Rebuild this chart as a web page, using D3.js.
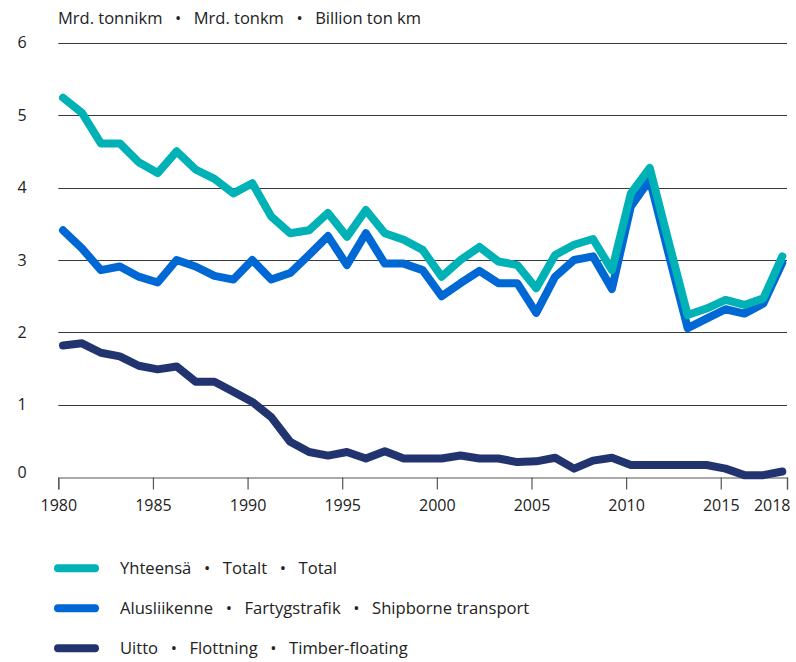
<!DOCTYPE html>
<html>
<head>
<meta charset="utf-8">
<script src="https://cdn.jsdelivr.net/npm/d3@7"></script>
<style>
  body { margin: 0; background: #fff; }
  svg text { font-family: "Open Sans", sans-serif; fill: #222; }
</style>
</head>
<body>
<div id="chart"></div>
<script>
// Data (billion ton km)
const years = d3.range(1980, 2019);

const total = [5.24, 5.03, 4.61, 4.61, 4.35, 4.20, 4.50, 4.25, 4.12, 3.92,
  4.06, 3.60, 3.37, 3.41, 3.65, 3.32, 3.69, 3.37, 3.28, 3.14,
  2.77, 3.00, 3.18, 2.98, 2.93, 2.61, 3.07, 3.21, 3.29, 2.86,
  3.92, 4.27, 3.25, 2.24, 2.33, 2.45, 2.38, 2.47, 3.05];

const shipborne = [3.41, 3.16, 2.86, 2.91, 2.77, 2.69, 3.00, 2.91, 2.78, 2.73,
  3.00, 2.73, 2.82, 3.07, 3.33, 2.93, 3.37, 2.95, 2.95, 2.86,
  2.50, 2.68, 2.85, 2.68, 2.68, 2.27, 2.77, 3.00, 3.05, 2.60,
  3.74, 4.11, 3.08, 2.06, 2.19, 2.32, 2.26, 2.40, 2.96];

const timber = [1.82, 1.85, 1.72, 1.67, 1.54, 1.49, 1.53, 1.32, 1.32, 1.18,
  1.04, 0.83, 0.49, 0.35, 0.30, 0.35, 0.26, 0.36, 0.26, 0.26,
  0.26, 0.30, 0.26, 0.26, 0.21, 0.22, 0.27, 0.12, 0.23, 0.27,
  0.17, 0.17, 0.17, 0.17, 0.17, 0.12, 0.03, 0.03, 0.08];

const yTicks = [0, 1, 2, 3, 4, 5, 6];
const xTicks = [1980, 1985, 1990, 1995, 2000, 2005, 2010, 2015, 2018.5];
const xTickLabels = ["1980", "1985", "1990", "1995", "2000", "2005", "2010", "2015", "2018"];

const sep = " \u2002•\u2002 ";
const unitLabel = ["Mrd. tonnikm", "Mrd. tonkm", "Billion ton km"].join(sep);
const seriesNames = [
  ["Yhteensä", "Totalt", "Total"].join(sep),
  ["Alusliikenne", "Fartygstrafik", "Shipborne transport"].join(sep),
  ["Uitto", "Flottning", "Timber-floating"].join(sep)
];
const seriesColors = ["#00b1b5", "#0068d4", "#22346f"];

const W = 796, H = 662;
const svg = d3.select("#chart").append("svg")
  .attr("width", W).attr("height", H);

const x = d3.scaleLinear().domain([1980, 2018.5]).range([58.3, 787]);
const y = d3.scaleLinear().domain([0, 6]).range([477.3, 42.7]);

// unit title
svg.append("text")
  .attr("x", 58).attr("y", 18)
  .attr("dy", "0.35em")
  .style("font-size", "16.5px")
  .style("white-space", "pre")
  .text(unitLabel);

// gridlines
svg.append("g")
  .selectAll("line")
  .data(yTicks.filter(d => d > 0))
  .enter().append("line")
    .attr("x1", x(1980)).attr("x2", x(2018.5))
    .attr("y1", d => Math.round(y(d)) + 0.5)
    .attr("y2", d => Math.round(y(d)) + 0.5)
    .style("stroke", "#3a3a3a")
    .style("stroke-width", 1.2);

// y labels
svg.append("g")
  .selectAll("text")
  .data(yTicks)
  .enter().append("text")
    .attr("x", 22)
    .attr("y", d => d === 0 ? y(d) - 5 : y(d))
    .attr("dy", "0.35em")
    .style("text-anchor", "middle")
    .style("font-size", "16px")
    .text(d => d);

// x axis
const xAxis = svg.append("g")
  .attr("transform", `translate(0,${Math.round(y(0)) + 0.5})`)
  .call(d3.axisBottom(x)
    .tickValues(xTicks)
    .tickSize(12)
    .tickPadding(10)
    .tickFormat((d, i) => xTickLabels[i]));

xAxis.select(".domain").style("stroke", "#555").style("stroke-width", 1.2);
xAxis.selectAll(".tick line").style("stroke", "#555").style("stroke-width", 1.2);
xAxis.selectAll(".tick text")
  .style("font-family", "'Open Sans', sans-serif")
  .style("font-size", "16px")
  .style("fill", "#222");
xAxis.selectAll(".tick text")
  .filter((d, i) => i === xTicks.length - 1)
  .style("text-anchor", "end")
  .attr("dx", 3);

// lines
const seriesData = [total, shipborne, timber];
const line = d3.line()
  .x((d, i) => x(years[i] + 0.25))
  .y(d => y(d));

// draw timber first, total on top
[2, 1, 0].forEach(k => {
  svg.append("path")
    .datum(seriesData[k])
    .attr("d", line)
    .style("fill", "none")
    .style("stroke", seriesColors[k])
    .style("stroke-width", 8)
    .style("stroke-linejoin", "round")
    .style("stroke-linecap", "round");
});

// legend
const legend = svg.selectAll(".legend")
  .data(seriesNames)
  .enter().append("g")
  .attr("class", "legend")
  .attr("transform", (d, i) => `translate(0,${568.3 + i * 40})`);

legend.append("line")
  .attr("x1", 58).attr("x2", 95)
  .attr("y1", 0).attr("y2", 0)
  .style("stroke", (d, i) => seriesColors[i])
  .style("stroke-width", 8)
  .style("stroke-linecap", "round");

legend.append("text")
  .attr("x", 120).attr("y", 0)
  .attr("dy", "0.35em")
  .style("font-size", "16.6px")
  .style("white-space", "pre")
  .text(d => d);
</script>
</body>
</html>
